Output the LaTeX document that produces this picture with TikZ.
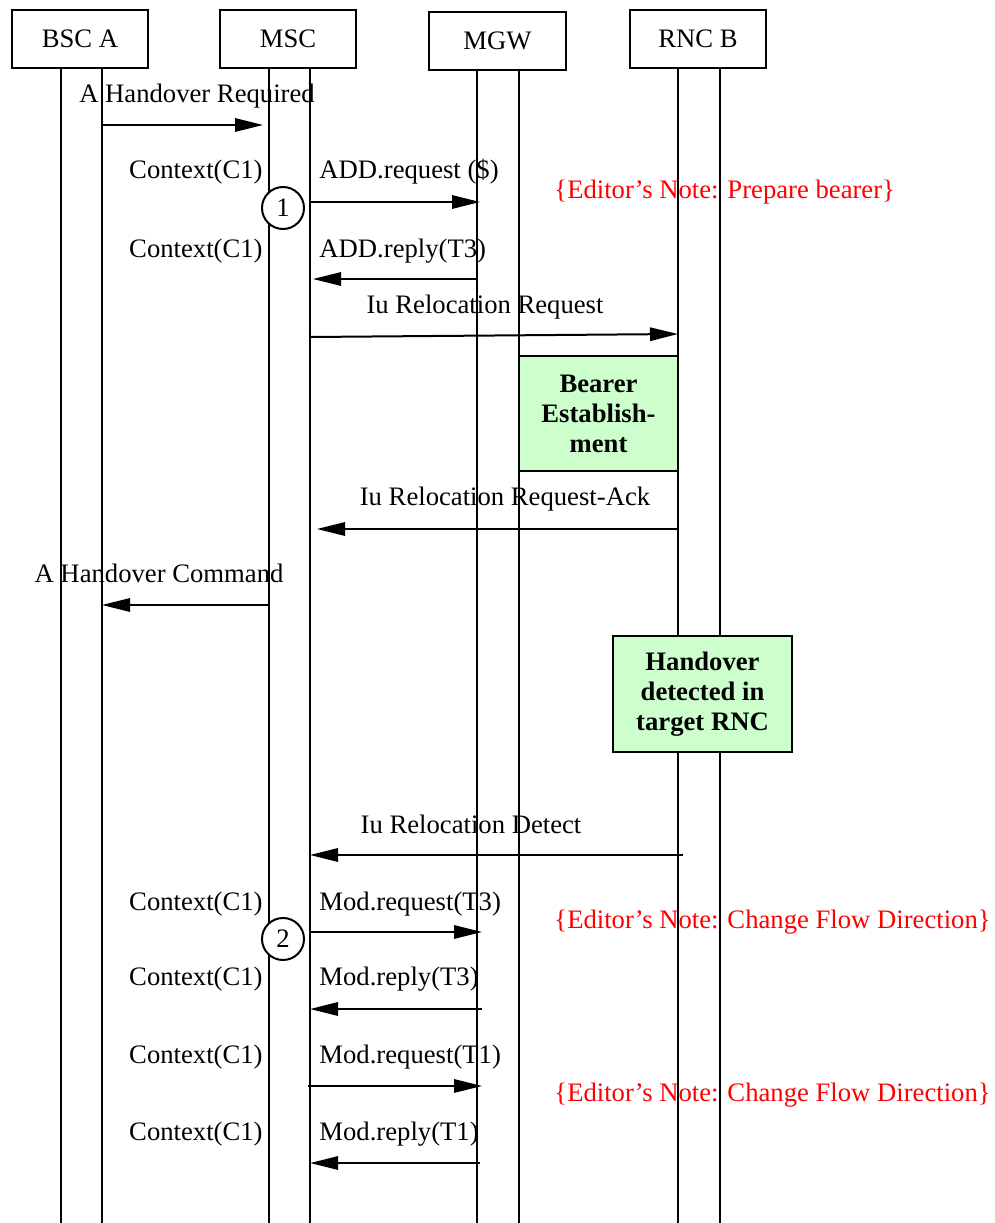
\documentclass[tikz,border=0pt]{standalone}
\usepackage{fontspec}
\setmainfont{Liberation Serif}
\usetikzlibrary{arrows.meta,fit}
\definecolor{actgreen}{HTML}{CCFFCC}
\begin{document}
\begin{tikzpicture}[x=0.45pt,y=-0.45pt,
  every node/.style={font=\fontsize{12}{13.5}\selectfont},
  entity/.style={draw, line width=0.9pt, inner sep=0pt},
  life/.style={line width=0.9pt},
  msg/.style={line width=0.9pt, -{Triangle[length=12.6pt,width=6pt]}},
  lbl/.style={inner sep=0pt},
  note/.style={inner sep=0pt, text=red},
  actbox/.style={draw, line width=0.9pt, fill=actgreen, inner sep=0pt},
  acttext/.style={inner sep=0pt, align=center, font=\bfseries\fontsize{12}{13.5}\selectfont},
  marker/.style={circle, draw, line width=0.9pt, fill=white, minimum size=18.9pt, inner sep=0pt}
]
\useasboundingbox (0,0) rectangle (995,1223);

% entity heads
\node[entity, fit={(12,10) (148,68)}] (bsc) {};
\node[entity, fit={(220,10) (356,68)}] (msc) {};
\node[entity, fit={(429,12) (566,70)}] (mgw) {};
\node[entity, fit={(630,10) (766,68)}] (rnc) {};
\node[lbl, anchor=base] (bscname) at (bsc.center |- 0,47) {BSC A};
\node[lbl, anchor=base] (mscname) at (msc.center |- 0,47) {MSC};
\node[lbl, anchor=base] (mgwname) at (mgw.center |- 0,49) {MGW};
\node[lbl, anchor=base] (rncname) at (rnc.center |- 0,47) {RNC B};

% lifelines (two per entity)
\coordinate (bscL) at (61,68);  \coordinate (bscR) at (102,68);
\coordinate (mscL) at (269,68); \coordinate (mscR) at (310,68);
\coordinate (mgwL) at (477,70); \coordinate (mgwR) at (519,70);
\coordinate (rncL) at (678,68); \coordinate (rncR) at (720,68);
\foreach \c in {bscL,bscR,mscL,mscR,mgwL,mgwR,rncL,rncR}
  \draw[life] (\c) -- (\c |- 0,1223);

% A Handover Required
\node[lbl, anchor=base] (t1) at (197,102) {A Handover Required};
\draw[msg, shorten >=2.7pt] (bscR |- 0,125) -- (mscL |- 0,125);

% ADD.request
\node[lbl, anchor=base east] (c1) at (263,178) {Context(C1)};
\node[lbl, anchor=base west] (t2) at (319,178) {ADD.request (\$)};
\draw[msg, shorten >=-1.35pt] (mscR |- 0,202) -- (mgwL |- 0,202);
\node[marker] (n1) at (283,208) {1};
\node[note, anchor=base west] (e1) at (554,198) {\{Editor’s Note: Prepare bearer\}};

% ADD.reply
\node[lbl, anchor=base east] (c2) at (263,257) {Context(C1)};
\node[lbl, anchor=base west] (t3) at (319,257) {ADD.reply(T3)};
\draw[msg, shorten >=1.35pt] (mgwL |- 0,279) -- (mscR |- 0,279);

% Iu Relocation Request
\node[lbl, anchor=base] (t4) at (485,313) {Iu Relocation Request};
\draw[msg] (mscR |- 0,337) -- (rncL |- 0,334);

% Bearer establishment
\node[actbox, fit={(519,356) (678,471)}] (bearer) {};
\node[acttext] (bearertext) at (bearer.center) {Bearer\\Establish-\\ment};

% Iu Relocation Request-Ack
\node[lbl, anchor=base] (t5) at (505,505) {Iu Relocation Request-Ack};
\draw[msg, shorten >=3.15pt] (rncL |- 0,529) -- (mscR |- 0,529);

% A Handover Command
\node[lbl, anchor=base] (t6) at (159,582) {A Handover Command};
\draw[msg] (mscL |- 0,605) -- (bscR |- 0,605);

% Handover detected
\node[actbox, fit={(613,636) (792,752)}] (hodet) {};
\node[acttext] (hodettext) at (hodet.center) {Handover\\detected in\\target RNC};

% Iu Relocation Detect
\node[lbl, anchor=base] (t7) at (471,833) {Iu Relocation Detect};
\draw[msg, shorten <=-2.25pt] (rncL |- 0,855) -- (mscR |- 0,855);

% Mod.request(T3)
\node[lbl, anchor=base east] (c3) at (263,910) {Context(C1)};
\node[lbl, anchor=base west] (t8) at (319,910) {Mod.request(T3)};
\draw[msg, shorten >=-2.25pt] (mscR |- 0,932) -- (mgwL |- 0,932);
\node[marker] (n2) at (283,939) {2};
\node[note, anchor=base west] (e2) at (554,928) {\{Editor’s Note: Change Flow Direction\}};

% Mod.reply(T3)
\node[lbl, anchor=base east] (c4) at (263,985) {Context(C1)};
\node[lbl, anchor=base west] (t9) at (319,985) {Mod.reply(T3)};
\draw[msg, shorten <=-2.25pt] (mgwL |- 0,1009) -- (mscR |- 0,1009);

% Mod.request(T1)
\node[lbl, anchor=base east] (c5) at (263,1063) {Context(C1)};
\node[lbl, anchor=base west] (t10) at (319,1063) {Mod.request(T1)};
\draw[msg, shorten <=-0.9pt, shorten >=-2.25pt] (mscR |- 0,1086) -- (mgwL |- 0,1086);
\node[note, anchor=base west] (e3) at (554,1101) {\{Editor’s Note: Change Flow Direction\}};

% Mod.reply(T1)
\node[lbl, anchor=base east] (c6) at (263,1140) {Context(C1)};
\node[lbl, anchor=base west] (t11) at (319,1140) {Mod.reply(T1)};
\draw[msg, shorten <=-1.35pt] (mgwL |- 0,1163) -- (mscR |- 0,1163);
\end{tikzpicture}
\end{document}
